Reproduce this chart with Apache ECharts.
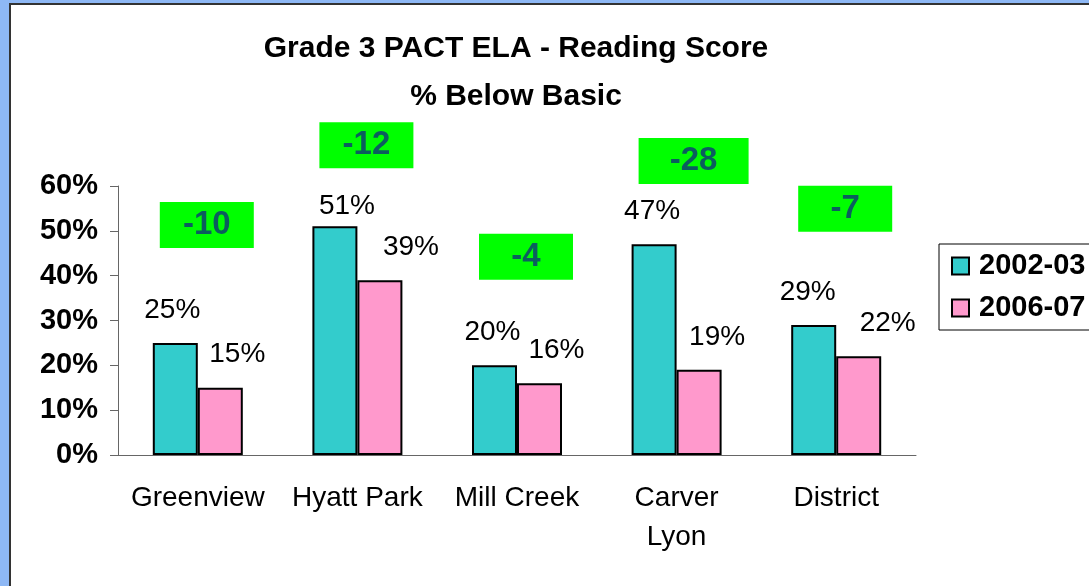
<!DOCTYPE html>
<html>
<head>
<meta charset="utf-8">
<title>Grade 3 PACT ELA - Reading Score</title>
<script src="https://cdn.jsdelivr.net/npm/echarts@6/dist/echarts.min.js"></script>
<style>
  html, body { margin: 0; padding: 0; }
  body { width: 1089px; height: 586px; background: #8EB8F5; position: relative; overflow: hidden; }
  #panel { position: absolute; left: 9px; top: 3px; right: 0; bottom: 0; background: #fff;
           border-left: 2px solid #333; border-top: 2px solid #333; }
  #chart { position: absolute; left: 0; top: 0; width: 1089px; height: 586px; }
</style>
</head>
<body>
<div id="panel"></div>
<div id="chart"></div>
<script>
// data
const schools = ['Greenview', 'Hyatt Park', 'Mill Creek', 'Carver\nLyon', 'District'];
const year1 = [25, 51, 20, 47, 29];   // 2002-03
const year2 = [15, 39, 16, 19, 22];   // 2006-07
const yTicks = [0, 10, 20, 30, 40, 50, 60];

// where the green change boxes sit (in % units) and how wide they are
const boxLevels = [51.3, 69.1, 44.2, 65.6, 54.9];
const boxWidths = [94, 94, 94, 110, 94];

// hand-nudged label positions, as in the original slide
const shift1 = [[-3, 0], [12, 13], [-2, 0], [-2, 0], [-6, 0]];
const shift2 = [[17, 0], [31, 0], [17, 0], [18, 0], [29, 0]];

const font = "'Liberation Sans', Arial, sans-serif";
const chart = echarts.init(document.getElementById('chart'), null, { renderer: 'canvas' });

function barItems(values, shifts) {
  return values.map((v, i) => ({ value: v, label: { offset: shifts[i] } }));
}

const changeItems = boxLevels.map((lv, i) => ({
  value: [i, lv],
  symbolSize: [boxWidths[i], 46],
  symbolOffset: [9 + (boxWidths[i] - 94) / 2, 0],
  change: year2[i] - year1[i]
}));

const option = {
  backgroundColor: 'transparent',
  animation: false,
  title: {
    text: 'Grade 3 PACT ELA - Reading Score\n% Below Basic',
    left: 511,
    top: 20,
    textAlign: 'center',
    textStyle: { fontFamily: font, fontSize: 30, fontWeight: 'bold', color: '#000', lineHeight: 48 }
  },
  legend: {
    data: ['2002-03', '2006-07'],
    orient: 'vertical',
    left: 939,
    top: 244,
    padding: [7, 80, 7, 12],
    itemGap: 12,
    itemWidth: 17,
    itemHeight: 17,
    icon: 'rect',
    borderColor: '#000',
    borderWidth: 1,
    backgroundColor: '#fff',
    textStyle: { fontFamily: font, fontSize: 29, fontWeight: 'bold', color: '#000', lineHeight: 30, padding: [0, 0, 0, 5] }
  },
  grid: { left: 118, right: 173, top: 186, bottom: 131 },
  xAxis: {
    type: 'category',
    data: schools,
    axisLine: { lineStyle: { color: '#666', width: 1 } },
    axisTick: { length: 8, lineStyle: { color: '#666' } },
    axisLabel: { interval: 0, fontFamily: font, fontSize: 28, color: '#000', margin: 24, lineHeight: 39 }
  },
  yAxis: {
    type: 'value',
    min: yTicks[0],
    max: yTicks[yTicks.length - 1],
    interval: 10,
    axisLine: { show: true, lineStyle: { color: '#666', width: 1 } },
    axisTick: { show: true, length: 8, lineStyle: { color: '#666' } },
    splitLine: { show: false },
    axisLabel: { fontFamily: font, fontSize: 29, fontWeight: 'bold', color: '#000', margin: 20, formatter: '{value}%' }
  },
  series: [
    {
      name: '2002-03',
      type: 'bar',
      data: barItems(year1, shift1),
      barWidth: 45,
      barGap: '0%',
      itemStyle: { color: '#33CCCC', borderColor: '#000', borderWidth: 2 },
      label: { show: true, position: 'top', distance: 19, formatter: '{c}%',
               fontFamily: font, fontSize: 28, color: '#000' }
    },
    {
      name: '2006-07',
      type: 'bar',
      data: barItems(year2, shift2),
      barWidth: 45,
      itemStyle: { color: '#FF99CC', borderColor: '#000', borderWidth: 2 },
      label: { show: true, position: 'top', distance: 19, formatter: '{c}%',
               fontFamily: font, fontSize: 28, color: '#000' }
    },
    {
      // green change boxes, some sit above the 60% top of the axis
      name: 'change',
      type: 'scatter',
      symbol: 'rect',
      silent: true,
      clip: false,
      z: 5,
      data: changeItems,
      itemStyle: { color: '#00FF00', opacity: 1 },
      label: {
        show: true,
        position: 'inside',
        formatter: p => String(p.data.change),
        fontFamily: font, fontSize: 33, fontWeight: 'bold', color: '#0B5E5E'
      }
    }
  ]
};

chart.setOption(option);
</script>
</body>
</html>
